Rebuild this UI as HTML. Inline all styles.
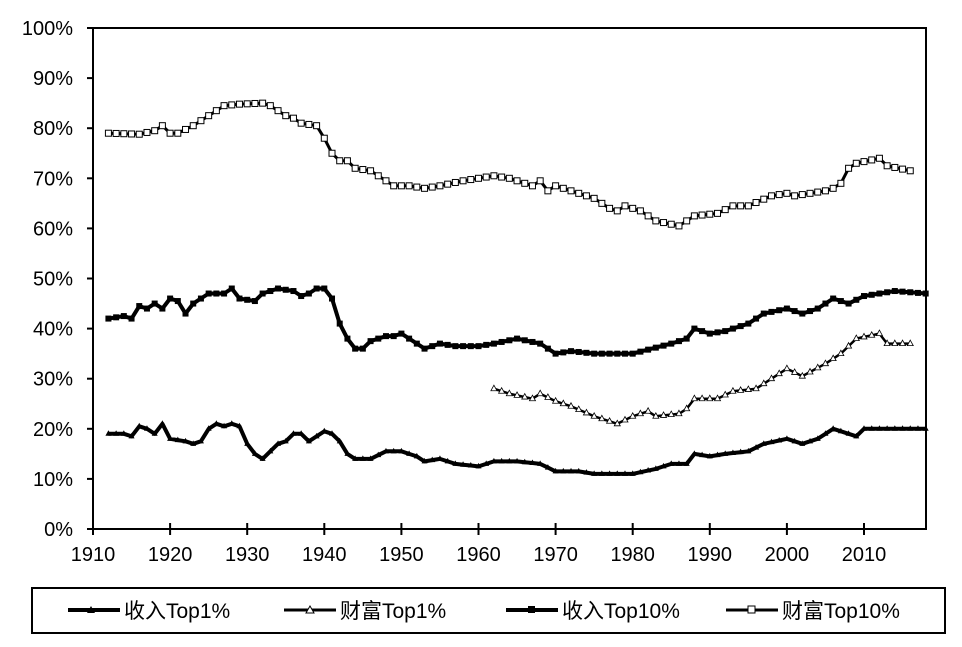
<!DOCTYPE html><html><head><meta charset="utf-8"><style>
body{margin:0;background:#fff;font-family:"Liberation Sans","Noto Sans CJK SC",sans-serif}
svg text{font-family:"Liberation Sans","Noto Sans CJK SC",sans-serif;font-size:20px;fill:#000}
svg text.lg{font-size:21px}
</style></head><body>
<svg id="s" width="962" height="642" xmlns="http://www.w3.org/2000/svg">
<rect x="93" y="28" width="833" height="501" fill="none" stroke="#000" stroke-width="2"/>
<g id="ax"></g><g id="ser"></g>
<rect x="32" y="588" width="913" height="45" fill="none" stroke="#000" stroke-width="2"/>
<g stroke="#000" stroke-width="4">
<line x1="68" y1="610" x2="120" y2="610"/><line x1="284" y1="610" x2="336" y2="610" stroke-width="3"/>
<line x1="506" y1="610" x2="558" y2="610"/><line x1="726" y1="610" x2="778" y2="610" stroke-width="3"/></g>
<polygon points="91,606 95,613 87,613" fill="#000"/>
<polygon points="310,606 314,613 306,613" fill="#fff" stroke="#000"/>
<rect x="528" y="606" width="7" height="7" fill="#000"/>
<rect x="748" y="606" width="7" height="7" fill="#fff" stroke="#000"/>
<text class="lg" x="124" y="618">收入Top1%</text><text class="lg" x="340" y="618">财富Top1%</text>
<text class="lg" x="562" y="618">收入Top10%</text><text class="lg" x="782" y="618">财富Top10%</text>
</svg>
<script>
var NS="http://www.w3.org/2000/svg",ax=document.getElementById('ax'),ser=document.getElementById('ser');
function X(y){return 93+7.71*(y-1910)}function Y(v){return 529-5.01*v}
function el(t,a,p){var e=document.createElementNS(NS,t);for(var k in a)e.setAttribute(k,a[k]);(p||ax).appendChild(e);return e}
for(var i=0;i<=10;i++){var y=Y(i*10);el('line',{x1:87,y1:y,x2:93,y2:y,stroke:'#000','stroke-width':2});var t=el('text',{x:73,y:y+7,'text-anchor':'end'});t.textContent=(i*10)+'%';}
for(var d=1910;d<=2010;d+=10){var x=X(d);el('line',{x1:x,y1:523,x2:x,y2:535,stroke:'#000','stroke-width':2});var t=el('text',{x:x,y:561,'text-anchor':'middle'});t.textContent=d;}
function interp(k){var a=[];for(var i=0;i<k.length-1;i++){var y0=k[i][0],v0=k[i][1],y1=k[i+1][0],v1=k[i+1][1];for(var y=y0;y<y1;y++)a.push([y,v0+(v1-v0)*(y-y0)/(y1-y0)]);}a.push(k[k.length-1]);return a}
function series(k,w,mk){var a=interp(k),d='';a.forEach(function(p,i){d+=(i?'L':'M')+X(p[0]).toFixed(1)+','+Y(p[1]).toFixed(1)});
el('path',{d:d,fill:'none',stroke:'#000','stroke-width':w,'stroke-linejoin':'round'},ser);
a.forEach(function(p){var x=X(p[0]),y=Y(p[1]);
if(mk=='fs')el('rect',{x:x-3,y:y-3,width:6,height:6,fill:'#000'},ser);
else if(mk=='os')el('rect',{x:x-3,y:y-3,width:6,height:6,fill:'#fff',stroke:'#000','stroke-width':1},ser);
else if(mk=='ft')el('polygon',{points:(x)+','+(y-3.5)+' '+(x+3)+','+(y+2)+' '+(x-3)+','+(y+2),fill:'#000'},ser);
else el('polygon',{points:(x)+','+(y-3.5)+' '+(x+3)+','+(y+2)+' '+(x-3)+','+(y+2),fill:'#fff',stroke:'#000','stroke-width':0.8},ser);});}
var w10=[[1912,79],[1916,78.8],[1918,79.5],[1919,80.5],[1920,79],[1921,79],[1923,80.5],[1925,82.5],[1927,84.5],[1929,84.8],[1932,85],[1933,84.5],[1935,82.5],[1936,82],[1937,81],[1939,80.5],[1940,78],[1941,75],[1942,73.5],[1943,73.5],[1944,72],[1946,71.5],[1947,70.5],[1948,69.5],[1949,68.5],[1951,68.5],[1953,68],[1955,68.5],[1958,69.5],[1960,70],[1962,70.5],[1964,70],[1966,69],[1967,68.5],[1968,69.5],[1969,67.5],[1970,68.5],[1971,68],[1974,66.5],[1975,66],[1977,64],[1978,63.5],[1979,64.5],[1981,63.5],[1983,61.5],[1986,60.5],[1987,61.5],[1988,62.5],[1991,63],[1993,64.5],[1995,64.5],[1998,66.5],[2000,67],[2001,66.5],[2003,67],[2005,67.5],[2006,68],[2007,69],[2008,72],[2009,73],[2012,74],[2013,72.5],[2016,71.5]];
var i10=[[1912,42],[1914,42.5],[1915,42],[1916,44.5],[1917,44],[1918,45],[1919,44],[1920,46],[1921,45.5],[1922,43],[1923,45],[1925,47],[1927,47],[1928,48],[1929,46],[1931,45.5],[1932,47],[1934,48],[1936,47.5],[1937,46.5],[1938,47],[1939,48],[1940,48],[1941,46],[1942,41],[1943,38],[1944,36],[1945,36],[1946,37.5],[1948,38.5],[1949,38.5],[1950,39],[1952,37],[1953,36],[1955,37],[1957,36.5],[1960,36.5],[1962,37],[1965,38],[1968,37],[1970,35],[1972,35.5],[1975,35],[1980,35],[1985,37],[1987,38],[1988,40],[1990,39],[1992,39.5],[1995,41],[1997,43],[2000,44],[2002,43],[2004,44],[2006,46],[2008,45],[2010,46.5],[2012,47],[2014,47.5],[2018,47]];
var i1=[[1912,19],[1914,19],[1915,18.5],[1916,20.5],[1917,20],[1918,19],[1919,21],[1920,18],[1922,17.5],[1923,17],[1924,17.5],[1925,20],[1926,21],[1927,20.5],[1928,21],[1929,20.5],[1930,17],[1931,15],[1932,14],[1933,15.5],[1934,17],[1935,17.5],[1936,19],[1937,19],[1938,17.5],[1939,18.5],[1940,19.5],[1941,19],[1942,17.5],[1943,15],[1944,14],[1946,14],[1948,15.5],[1950,15.5],[1952,14.5],[1953,13.5],[1955,14],[1957,13],[1960,12.5],[1962,13.5],[1965,13.5],[1968,13],[1970,11.5],[1973,11.5],[1975,11],[1980,11],[1983,12],[1985,13],[1987,13],[1988,15],[1990,14.5],[1992,15],[1995,15.5],[1997,17],[2000,18],[2002,17],[2004,18],[2006,20],[2008,19],[2009,18.5],[2010,20],[2012,20],[2014,20],[2018,20]];
var w1=[[1962,28],[1964,27],[1967,26],[1968,27],[1970,25.5],[1972,24.5],[1975,22.5],[1977,21.5],[1978,21],[1980,22.5],[1982,23.5],[1983,22.5],[1986,23],[1987,24],[1988,26],[1991,26],[1993,27.5],[1996,28],[1999,31],[2000,32],[2002,30.5],[2005,33],[2007,35],[2009,38],[2012,39],[2013,37],[2016,37]];
series(w10,3,'os');series(i10,4,'fs');series(w1,2.5,'ot');series(i1,4,'ft');
</script></body></html>
